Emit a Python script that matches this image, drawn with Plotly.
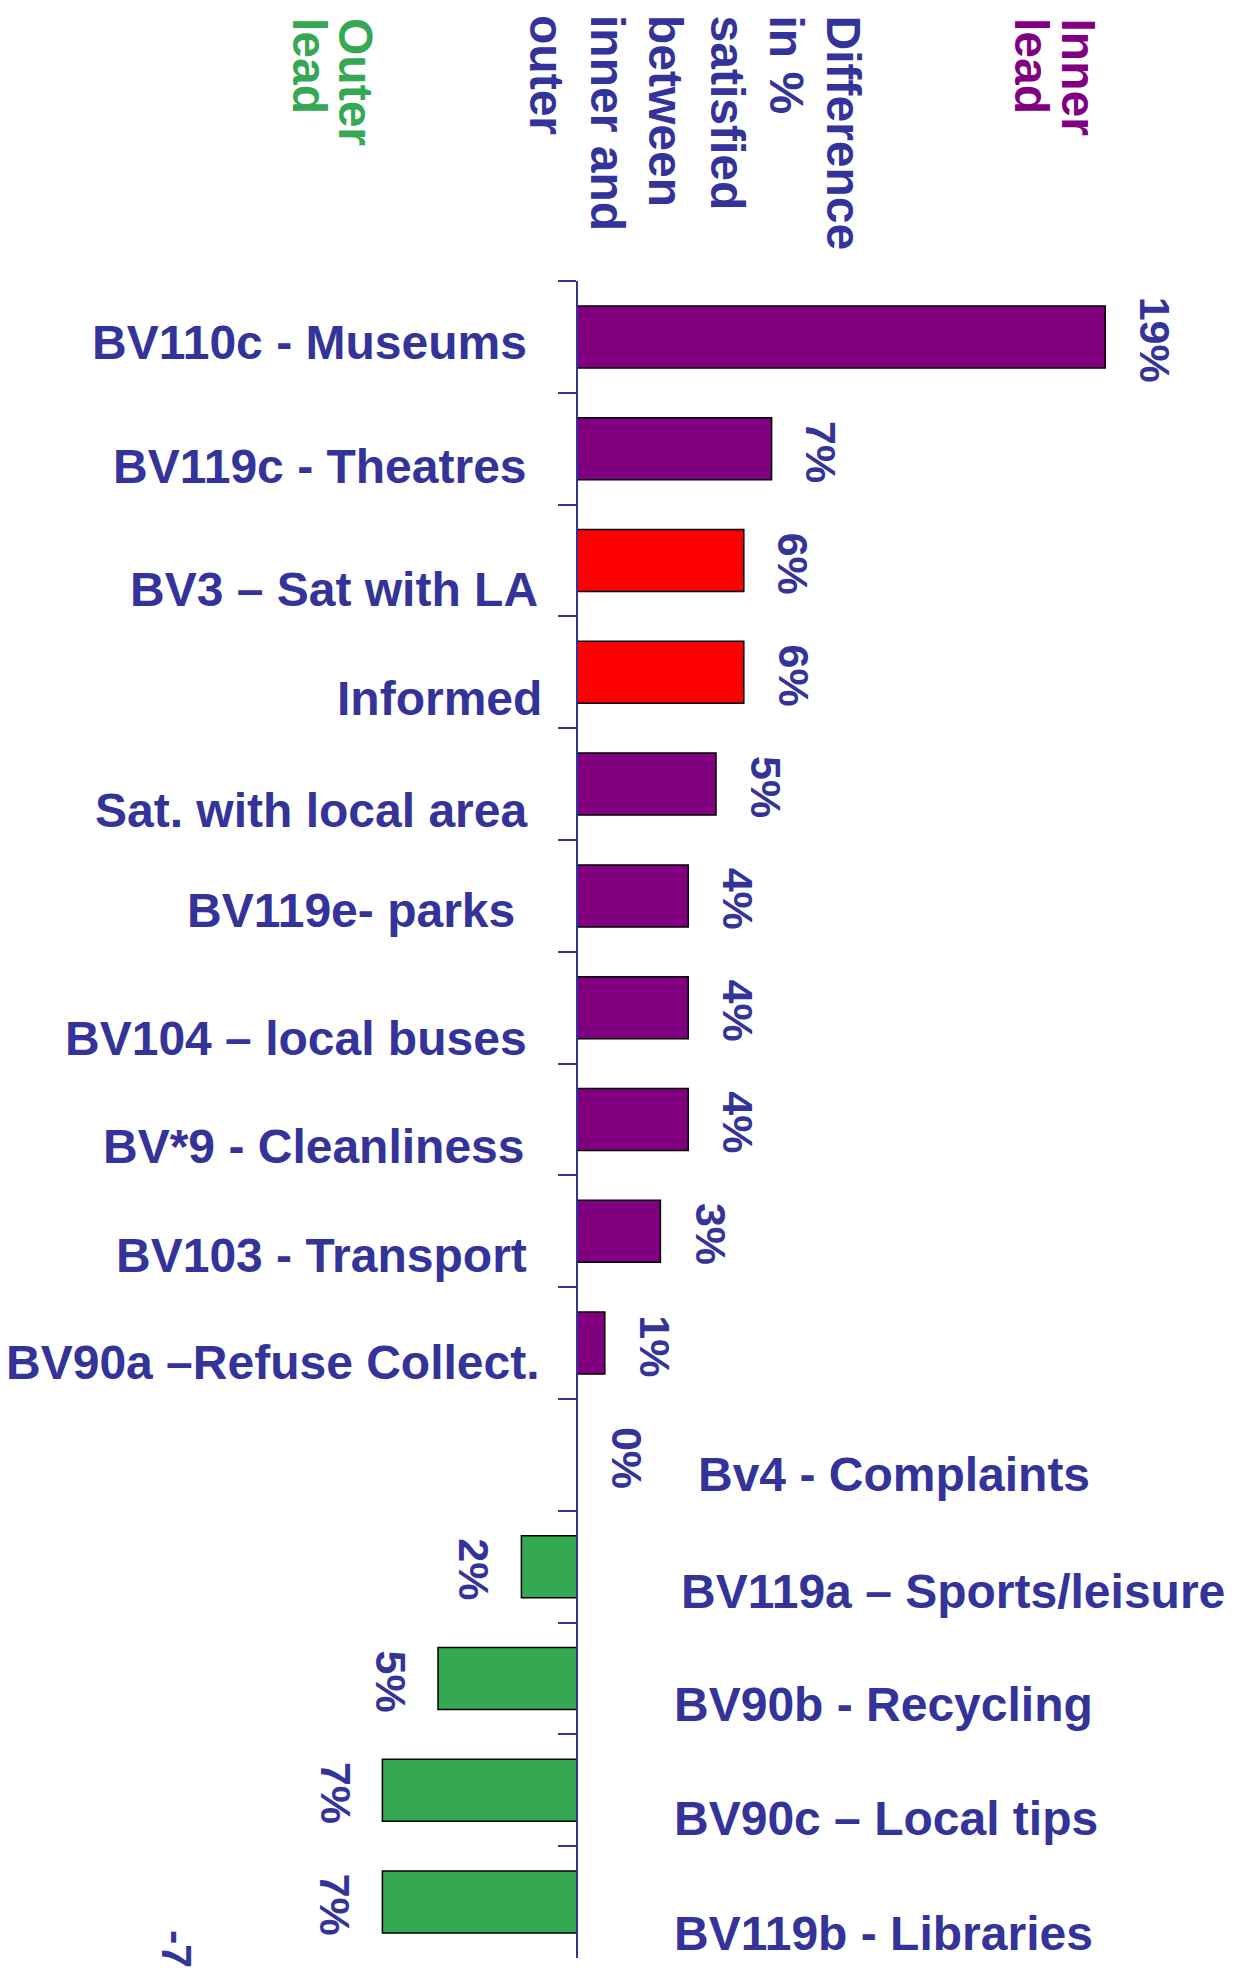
import plotly.graph_objects as go

# ---------------- data ----------------
categories = [
    "BV110c - Museums", "BV119c - Theatres", "BV3 – Sat with LA", "Informed",
    "Sat. with local area", "BV119e- parks", "BV104 – local buses",
    "BV*9 - Cleanliness", "BV103 - Transport", "BV90a –Refuse Collect.",
    "Bv4 - Complaints", "BV119a – Sports/leisure", "BV90b - Recycling",
    "BV90c – Local tips", "BV119b - Libraries",
]
values = [19, 7, 6, 6, 5, 4, 4, 4, 3, 1, 0, -2, -5, -7, -7]
value_labels = ["19%", "7%", "6%", "6%", "5%", "4%", "4%", "4%", "3%", "1%",
                "0%", "2%", "5%", "7%", "7%"]
groups = ["inner", "inner", "highlight", "highlight", "inner", "inner", "inner",
          "inner", "inner", "inner", "outer", "outer", "outer", "outer", "outer"]
header_lines = ["Difference", "in %", "satisfied", "between", "inner and", "outer"]
inner_lines = ["Inner", "lead"]
outer_lines = ["Outer", "lead"]
corner_text = "-7"

# ---------------- style / layout ----------------
W, H = 1241, 1971
L, R, T, B = 0, 0, 281, 13
AXIS_PX = 577
PX_PER_UNIT = 27.8
NAVY = "#333399"
PURPLE = "#800080"
RED = "#FF0000"
GREEN = "#34A853"
group_colors = {"inner": PURPLE, "highlight": RED, "outer": GREEN}
FONT = "Liberation Sans, Arial, Helvetica, sans-serif"

# per-label placement (pixel offsets from axis / band centre)
label_dx = [-48, -48, -37, -33, -48, -60, -48, -50, -48, -35, 119, 102, 95, 95, 95]
label_dy = [6, 18, 29, 26, 26, 15, 31, 27, 24, 19, 20, 25, 26, 28, 31]

plot_h = H - T - B


def px_x(px):
    return (px - L) / (W - L - R)


def px_y(py):
    return (H - B - py) / plot_h


x_range = [-AXIS_PX / PX_PER_UNIT, (W - AXIS_PX) / PX_PER_UNIT]

fig = go.Figure()
fig.add_trace(go.Bar(
    x=values,
    y=categories,
    orientation="h",
    width=0.555,
    marker=dict(color=[group_colors[g] for g in groups],
                line=dict(color="black", width=1.5)),
    hoverinfo="skip",
))

annotations = []
# category labels
for i, (cat, v) in enumerate(zip(categories, values)):
    annotations.append(dict(
        x=0, y=cat, xref="x", yref="y", text=cat, showarrow=False,
        xanchor="right" if v > 0 else "left", yanchor="middle",
        xshift=label_dx[i], yshift=-label_dy[i],
        font=dict(family=FONT, size=48, color=NAVY, weight="bold"),
    ))
# value labels (rotated)
for cat, v, lab in zip(categories, values, value_labels):
    annotations.append(dict(
        x=v, y=cat, xref="x", yref="y", text=lab, showarrow=False,
        textangle=90,
        xanchor="left" if v >= 0 else "right", yanchor="middle",
        xshift=24 if v >= 0 else -21, yshift=-3,
        font=dict(family=FONT, size=43, color=NAVY, weight="bold"),
    ))
# header columns (rotated)
header_x = [843, 786, 727, 666, 608, 547]
for txt, cx in zip(header_lines, header_x):
    annotations.append(dict(
        x=px_x(cx), y=px_y(13), xref="paper", yref="paper", text=txt,
        showarrow=False, textangle=90, xanchor="center", yanchor="top",
        font=dict(family=FONT, size=48, color=NAVY, weight="bold"),
    ))
for txt, cx in zip(inner_lines, [1078, 1031]):
    annotations.append(dict(
        x=px_x(cx), y=px_y(16), xref="paper", yref="paper", text=txt,
        showarrow=False, textangle=90, xanchor="center", yanchor="top",
        font=dict(family=FONT, size=48, color=PURPLE, weight="bold"),
    ))
for txt, cx in zip(outer_lines, [355, 309]):
    annotations.append(dict(
        x=px_x(cx), y=px_y(16), xref="paper", yref="paper", text=txt,
        showarrow=False, textangle=90, xanchor="center", yanchor="top",
        font=dict(family=FONT, size=48, color=GREEN, weight="bold"),
    ))
annotations.append(dict(
    x=px_x(177), y=px_y(1928), xref="paper", yref="paper", text=corner_text,
    showarrow=False, textangle=90, xanchor="center", yanchor="top",
    font=dict(family=FONT, size=43, color=NAVY, weight="bold"),
))

fig.update_layout(
    width=W, height=H,
    margin=dict(l=L, r=R, t=T, b=B, pad=0),
    paper_bgcolor="white", plot_bgcolor="white",
    showlegend=False,
    bargap=0.445,
    xaxis=dict(range=x_range, visible=False, fixedrange=True),
    yaxis=dict(
        type="category", range=[len(categories) - 0.5, -0.5],
        anchor="free", position=px_x(AXIS_PX),
        showline=True, linecolor=NAVY, linewidth=2,
        ticks="outside", tickson="boundaries", ticklen=18, tickwidth=2,
        tickcolor=NAVY, showticklabels=False, showgrid=False, zeroline=False,
        fixedrange=True,
    ),
    annotations=annotations,
)

fig.write_html("out.html",
               config={"displayModeBar": False},
               post_script="document.body.style.margin='0';")
